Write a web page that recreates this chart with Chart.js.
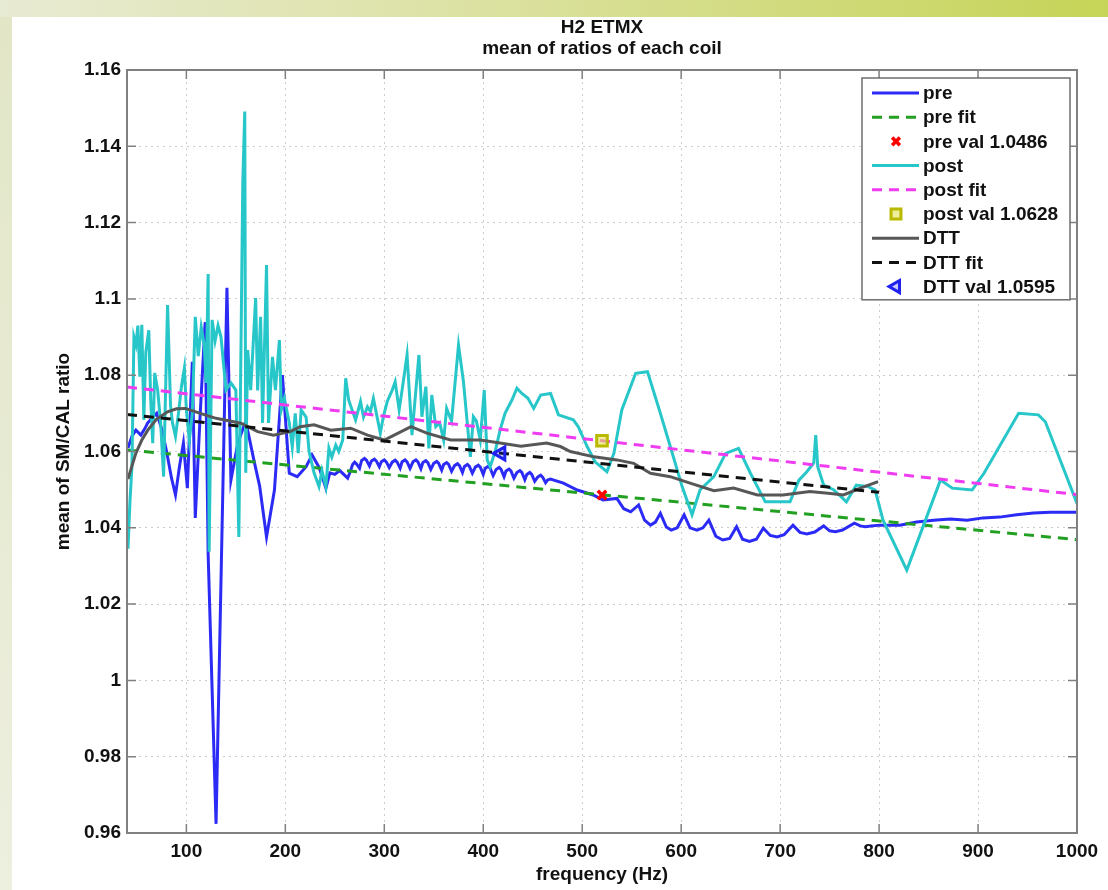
<!DOCTYPE html>
<html>
<head>
<meta charset="utf-8">
<title>H2 ETMX - mean of ratios of each coil</title>
<script src="https://cdn.jsdelivr.net/npm/chart.js@4.4.1/dist/chart.umd.min.js"></script>
<style>
  html, body { margin: 0; padding: 0; background: #fff; }
  #wrap { width: 1108px; height: 890px; }
</style>
</head>
<body>
<div id="wrap"><canvas id="ratioChart" width="1108" height="890"></canvas></div>
<script>
// ---- values: [frequency (Hz), mean SM/CAL ratio] ----
const xTicks = [100, 200, 300, 400, 500, 600, 700, 800, 900, 1000];
const xTickLabels = ["100", "200", "300", "400", "500", "600", "700", "800", "900", "1000"];
const yTicks = [0.96, 0.98, 1.0, 1.02, 1.04, 1.06, 1.08, 1.1, 1.12, 1.14, 1.16];
const yTickLabels = ["0.96", "0.98", "1", "1.02", "1.04", "1.06", "1.08", "1.1", "1.12", "1.14", "1.16"];

const preCurve = [
  [41, 1.0609], [45, 1.0640], [49, 1.0656], [54, 1.0643], [58, 1.0660], [61, 1.0675], [66, 1.0690], [70, 1.0700],
  [75, 1.0660], [80, 1.0600], [85, 1.0530], [89, 1.0486], [93, 1.0560], [97, 1.0622], [101, 1.0504], [106, 1.0835],
  [109, 1.0426], [114, 1.0700], [119, 1.0939], [122, 1.0330], [130, 0.9624], [141, 1.1029], [145, 1.0525], [152, 1.0622],
  [160, 1.0680], [168, 1.0580], [174, 1.0510], [181, 1.0376], [189, 1.0499], [197, 1.0800], [204, 1.0543], [212, 1.0534],
  [221, 1.0560], [227, 1.0591], [234, 1.0559], [241, 1.0504], [245, 1.0544], [250, 1.0540], [255, 1.0550], [263, 1.0530],
  [266, 1.0550], [268, 1.0566], [270, 1.0572], [272, 1.0567], [275, 1.0556], [277, 1.0576], [280, 1.0582], [282, 1.0577],
  [285, 1.0562], [287, 1.0575], [290, 1.0580], [292, 1.0575], [295, 1.0560], [297, 1.0573], [300, 1.0578], [302, 1.0573],
  [305, 1.0558], [308, 1.0572], [311, 1.0577], [313, 1.0572], [316, 1.0556], [318, 1.0573], [321, 1.0578], [323, 1.0573],
  [326, 1.0556], [329, 1.0573], [332, 1.0578], [334, 1.0573], [337, 1.0555], [339, 1.0571], [342, 1.0576], [344, 1.0571],
  [347, 1.0553], [350, 1.0569], [353, 1.0574], [355, 1.0569], [358, 1.0551], [360, 1.0566], [363, 1.0571], [365, 1.0566],
  [368, 1.0548], [371, 1.0563], [374, 1.0568], [376, 1.0563], [379, 1.0545], [381, 1.0561], [384, 1.0566], [386, 1.0561],
  [389, 1.0543], [392, 1.0559], [395, 1.0564], [397, 1.0559], [400, 1.0540], [402, 1.0556], [405, 1.0561], [407, 1.0556],
  [410, 1.0537], [413, 1.0553], [416, 1.0558], [418, 1.0553], [421, 1.0534], [423, 1.0549], [426, 1.0554], [428, 1.0549],
  [431, 1.0530], [434, 1.0545], [437, 1.0550], [439, 1.0545], [442, 1.0526], [444, 1.0540], [447, 1.0545], [449, 1.0540],
  [452, 1.0522], [455, 1.0533], [458, 1.0538], [460, 1.0533], [463, 1.0518], [465, 1.0525], [468, 1.0528],
  [481, 1.0517], [495, 1.0499], [511, 1.0486], [521, 1.0473], [535, 1.0477], [542, 1.0450], [549, 1.0442], [557, 1.0460],
  [563, 1.0420], [569, 1.0407], [574, 1.0415], [579, 1.0438], [585, 1.0402], [590, 1.0394], [596, 1.0400], [603, 1.0434],
  [609, 1.0400], [616, 1.0394], [622, 1.0400], [628, 1.0420], [635, 1.0378], [642, 1.0368], [649, 1.0372], [656, 1.0403],
  [662, 1.0370], [669, 1.0364], [676, 1.0370], [683, 1.0399], [690, 1.0380], [697, 1.0376], [704, 1.0382], [713, 1.0407],
  [720, 1.0388], [727, 1.0384], [735, 1.0389], [744, 1.0405], [750, 1.0392], [756, 1.0390], [763, 1.0394], [775, 1.0412],
  [781, 1.0405], [786, 1.0403], [792, 1.0405], [801, 1.0407], [821, 1.0407], [838, 1.0415], [855, 1.0420], [872, 1.0423],
  [889, 1.0420], [905, 1.0426], [922, 1.0428], [939, 1.0434], [956, 1.0439], [973, 1.0441], [1000, 1.0441]
];

const postCurve = [
  [41, 1.0345], [43, 1.0470], [45, 1.0560], [47, 1.0900], [49, 1.0880], [51, 1.0930], [53, 1.0796], [55, 1.0932],
  [57, 1.0683], [59, 1.0860], [62, 1.0918], [64, 1.0735], [66, 1.0622], [68, 1.0806], [71, 1.0761], [74, 1.0675],
  [77, 1.0534], [81, 1.0984], [84, 1.0720], [86, 1.0675], [89, 1.0640], [92, 1.0700], [95, 1.0770], [98, 1.0819],
  [100, 1.0709], [103, 1.0630], [106, 1.0700], [109, 1.0953], [112, 1.0850], [115, 1.0926], [118, 1.0880], [120, 1.0780],
  [122, 1.1065], [123, 1.0337], [126, 1.0945], [129, 1.0890], [132, 1.0930], [135, 1.0900], [140, 1.0761], [145, 1.0780],
  [150, 1.0761], [153, 1.0376], [155, 1.0832], [157, 1.1304], [159, 1.1491], [160, 1.0544], [162, 1.0866], [165, 1.0761],
  [170, 1.1002], [172, 1.0760], [175, 1.0953], [177, 1.0675], [181, 1.1089], [183, 1.0675], [187, 1.0848], [190, 1.0761],
  [194, 1.0892], [196, 1.0710], [199, 1.0740], [204, 1.0675], [207, 1.0612], [210, 1.0700], [213, 1.0596], [216, 1.0709],
  [221, 1.0690], [224, 1.0600], [229, 1.0544], [234, 1.0508], [237, 1.0550], [241, 1.0508], [244, 1.0609], [247, 1.0585],
  [251, 1.0617], [254, 1.0600], [258, 1.0630], [261, 1.0792], [264, 1.0735], [268, 1.0705], [271, 1.0683], [276, 1.0731],
  [279, 1.0690], [283, 1.0717], [286, 1.0705], [289, 1.0739], [292, 1.0700], [296, 1.0648], [299, 1.0691], [303, 1.0731],
  [308, 1.0761], [311, 1.0783], [315, 1.0709], [318, 1.0761], [323, 1.0853], [328, 1.0643], [335, 1.0853], [338, 1.0691],
  [342, 1.0770], [345, 1.0608], [348, 1.0748], [352, 1.0665], [356, 1.0675], [360, 1.0630], [363, 1.0713], [368, 1.0680],
  [375, 1.0879], [380, 1.0783], [387, 1.0586], [390, 1.0691], [393, 1.0680], [397, 1.0630], [401, 1.0761], [404, 1.0578],
  [407, 1.0560], [412, 1.0600], [417, 1.0656], [422, 1.0700], [429, 1.0735], [434, 1.0766], [439, 1.0752], [445, 1.0740],
  [451, 1.0713], [458, 1.0748], [468, 1.0752], [476, 1.0696], [491, 1.0683], [496, 1.0665], [505, 1.0613], [513, 1.0573],
  [525, 1.0547], [532, 1.0595], [540, 1.0709], [554, 1.0805], [566, 1.0809], [579, 1.0700], [589, 1.0613], [601, 1.0508],
  [611, 1.0434], [619, 1.0499], [633, 1.0534], [645, 1.0595], [658, 1.0608], [670, 1.0543], [685, 1.0468], [710, 1.0468],
  [719, 1.0525], [727, 1.0547], [734, 1.0570], [736, 1.0643], [738, 1.0560], [744, 1.0512], [754, 1.0500], [767, 1.0468],
  [777, 1.0512], [789, 1.0508], [796, 1.0499], [804, 1.0420], [828, 1.0289], [862, 1.0525], [874, 1.0504], [894, 1.0499],
  [906, 1.0543], [941, 1.0700], [961, 1.0696], [968, 1.0678], [1000, 1.0464]
];

const dttCurve = [
  [41, 1.0528], [49, 1.0596], [55, 1.0630], [61, 1.0656], [70, 1.0685], [81, 1.0704], [90, 1.0712], [99, 1.0713],
  [114, 1.0700], [130, 1.0687], [155, 1.0674], [172, 1.0652], [188, 1.0643], [205, 1.0652], [215, 1.0665], [229, 1.0670],
  [246, 1.0656], [266, 1.0661], [283, 1.0643], [300, 1.0630], [327, 1.0665], [343, 1.0648], [367, 1.0630], [397, 1.0630],
  [417, 1.0622], [438, 1.0614], [464, 1.0622], [478, 1.0613], [488, 1.0600], [512, 1.0586], [535, 1.0578], [552, 1.0569],
  [569, 1.0543], [589, 1.0534], [609, 1.0517], [633, 1.0497], [653, 1.0504], [677, 1.0486], [703, 1.0486], [730, 1.0495],
  [751, 1.0490], [764, 1.0486], [781, 1.0504], [799, 1.0521]
];

// straight-line fits (end points) and the single evaluated values
const preFit = [[40, 1.0604], [1000, 1.0369]];
const postFit = [[40, 1.0769], [1000, 1.0487]];
const dttFit = [[40, 1.0697], [800, 1.0493]];
const preVal = [[520, 1.0486]];
const postVal = [[520, 1.0628]];
const dttVal = [[418, 1.0595]];

const FONT = '"Liberation Sans", Arial, Helvetica, sans-serif';
const DASH = [10, 7];

function toPoints(pairs) {
    return pairs.map(([x, y]) => ({ x: x, y: y }));
}

const datasets = [
    { label: "pre", data: toPoints(preCurve), borderColor: "#2b2bf5", borderWidth: 3 },
    { label: "pre fit", data: toPoints(preFit), borderColor: "#22a022", borderWidth: 3, borderDash: DASH },
    { label: "pre val " + preVal[0][1].toFixed(4), data: toPoints(preVal), showLine: false,
      pointStyle: "crossRot", pointRadius: 6, pointBorderWidth: 3.5, borderColor: "#ff0000", backgroundColor: "#ff0000" },
    { label: "post", data: toPoints(postCurve), borderColor: "#27c6c9", borderWidth: 3 },
    { label: "post fit", data: toPoints(postFit), borderColor: "#f03cf0", borderWidth: 3, borderDash: DASH },
    { label: "post val " + postVal[0][1].toFixed(4), data: toPoints(postVal), showLine: false,
      pointStyle: "rect", pointRadius: 7.5, pointBorderWidth: 3, borderColor: "#b9b900", backgroundColor: "rgba(226,226,90,0.6)" },
    { label: "DTT", data: toPoints(dttCurve), borderColor: "#575757", borderWidth: 3 },
    { label: "DTT fit", data: toPoints(dttFit), borderColor: "#111111", borderWidth: 3, borderDash: DASH },
    { label: "DTT val " + dttVal[0][1].toFixed(4), data: toPoints(dttVal), showLine: false,
      pointStyle: "triangle", pointRotation: -90, pointRadius: 7.5, pointBorderWidth: 3, borderColor: "#2020f0", backgroundColor: "rgba(40,40,240,0.25)" }
];

// matlab draws later lines on top
datasets.forEach(function (d, i) {
    d.order = datasets.length - i;
    d.fill = false;
    d.tension = 0;
    if (d.pointRadius === undefined) d.pointRadius = 0;
});

// page frame and the two title lines
const figureFrame = {
    id: "figureFrame",
    beforeDraw(chart) {
        const { ctx, width, height } = chart;
        ctx.save();
        ctx.fillStyle = "#ffffff";
        ctx.fillRect(0, 0, width, height);
        const band = ctx.createLinearGradient(0, 0, width, 0);
        band.addColorStop(0, "#e8ebd3");
        band.addColorStop(0.4, "#dde2a6");
        band.addColorStop(1, "#c6d457");
        ctx.fillStyle = band;
        ctx.fillRect(0, 0, width, 17);
        const side = ctx.createLinearGradient(0, 0, 0, height);
        side.addColorStop(0, "#e2e6c6");
        side.addColorStop(1, "#edefdf");
        ctx.fillStyle = side;
        ctx.fillRect(0, 17, 12, height - 17);
        ctx.restore();
    },
    afterDraw(chart) {
        const { ctx, chartArea } = chart;
        const cx = (chartArea.left + chartArea.right) / 2;
        ctx.save();
        ctx.fillStyle = "#111";
        ctx.textAlign = "center";
        ctx.textBaseline = "middle";
        ctx.font = "bold 19px " + FONT;
        ctx.fillText("H2 ETMX", cx, 28);
        ctx.fillText("mean of ratios of each coil", cx, 49);
        ctx.restore();
    }
};

// matlab style box with inward ticks on all four sides
const axesBox = {
    id: "axesBox",
    afterDatasetsDraw(chart) {
        const { ctx, chartArea: a, scales } = chart;
        const len = 9;
        ctx.save();
        ctx.strokeStyle = "#808080";
        ctx.lineWidth = 1.5;
        ctx.beginPath();
        scales.x.ticks.forEach(function (t) {
            const px = scales.x.getPixelForValue(t.value);
            ctx.moveTo(px, a.bottom); ctx.lineTo(px, a.bottom - len);
            ctx.moveTo(px, a.top); ctx.lineTo(px, a.top + len);
        });
        scales.y.ticks.forEach(function (t) {
            const py = scales.y.getPixelForValue(t.value);
            ctx.moveTo(a.left, py); ctx.lineTo(a.left + len, py);
            ctx.moveTo(a.right, py); ctx.lineTo(a.right - len, py);
        });
        ctx.stroke();
        ctx.lineWidth = 2;
        ctx.strokeRect(a.left, a.top, a.right - a.left, a.bottom - a.top);
        ctx.restore();
    }
};

// legend box drawn inside the top right corner of the axes
const matlabLegend = {
    id: "matlabLegend",
    afterDraw(chart) {
        const { ctx, chartArea: a } = chart;
        const sets = chart.data.datasets;
        const rowH = 24.2;
        const boxW = 208;
        const boxH = sets.length * rowH + 4;
        const left = a.right - 7 - boxW;
        const top = a.top + 8;
        ctx.save();
        ctx.fillStyle = "#ffffff";
        ctx.fillRect(left, top, boxW, boxH);
        ctx.strokeStyle = "#6e6e6e";
        ctx.lineWidth = 1.5;
        ctx.strokeRect(left, top, boxW, boxH);
        ctx.font = "bold 19px " + FONT;
        ctx.textBaseline = "middle";
        ctx.textAlign = "left";
        sets.forEach(function (d, i) {
            const y = top + 15 + i * rowH;
            if (d.showLine === false) {
                ctx.strokeStyle = d.borderColor;
                ctx.fillStyle = d.backgroundColor;
                ctx.lineWidth = d.pointBorderWidth;
                Chart.helpers.drawPoint(ctx, {
                    pointStyle: d.pointStyle, rotation: d.pointRotation || 0,
                    radius: d.pointRadius - 0.5, borderWidth: d.pointBorderWidth
                }, left + 34, y);
            } else {
                ctx.strokeStyle = d.borderColor;
                ctx.lineWidth = d.borderWidth;
                ctx.setLineDash(d.borderDash || []);
                ctx.beginPath();
                ctx.moveTo(left + 10, y);
                ctx.lineTo(left + 57, y);
                ctx.stroke();
                ctx.setLineDash([]);
            }
            ctx.fillStyle = "#111";
            ctx.fillText(d.label, left + 61, y + 1);
        });
        ctx.restore();
    }
};

const tickFont = { family: FONT, size: 19, weight: "bold" };

new Chart(document.getElementById("ratioChart").getContext("2d"), {
    type: "line",
    data: { datasets: datasets },
    options: {
        responsive: false,
        animation: false,
        devicePixelRatio: 1,
        layout: { padding: { top: 70, right: 31, left: 0, bottom: 0 } },
        plugins: {
            legend: { display: false },
            title: { display: false },
            tooltip: { enabled: false }
        },
        scales: {
            x: {
                type: "linear",
                min: 40,
                max: 1000,
                afterBuildTicks: function (s) { s.ticks = xTicks.map(function (v) { return { value: v }; }); },
                afterFit: function (s) { s.height = 57; },
                ticks: {
                    callback: function (v, i) { return xTickLabels[i]; },
                    color: "#111", font: tickFont, padding: 7, maxRotation: 0, autoSkip: false
                },
                grid: { color: "#cccccc", lineWidth: 1, drawTicks: false },
                border: { display: false, dash: [2, 4] },
                title: { display: true, text: "frequency (Hz)", color: "#111", font: tickFont, padding: { top: 0, bottom: 4 } }
            },
            y: {
                type: "linear",
                min: 0.96,
                max: 1.16,
                afterBuildTicks: function (s) { s.ticks = yTicks.map(function (v) { return { value: v }; }); },
                afterFit: function (s) { s.width = 127; },
                ticks: {
                    callback: function (v, i) { return yTickLabels[i]; },
                    color: "#111", font: tickFont, padding: 6, autoSkip: false
                },
                grid: { color: "#cccccc", lineWidth: 1, drawTicks: false },
                border: { display: false, dash: [2, 4] },
                title: { display: true, text: "mean of SM/CAL ratio", color: "#111", font: tickFont, padding: { top: 52, bottom: 0 } }
            }
        }
    },
    plugins: [figureFrame, axesBox, matlabLegend]
});
</script>
</body>
</html>
